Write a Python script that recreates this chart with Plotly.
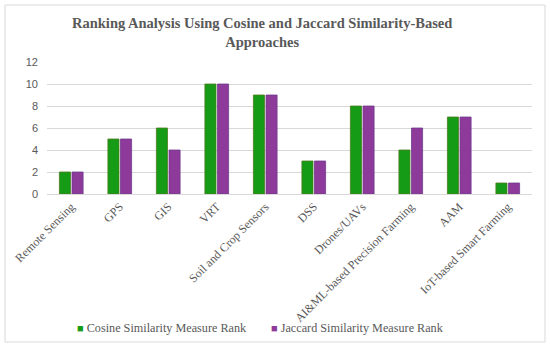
import plotly.graph_objects as go

categories = ["Remote Sensing", "GPS", "GIS", "VRT", "Soil and Crop Sensors", "DSS",
              "Drones/UAVs", "AI&ML-based Precision Farming", "AAM", "IoT-based Smart Farming"]
cosine_rank = [2, 5, 6, 10, 9, 3, 8, 4, 7, 1]
jaccard_rank = [2, 5, 4, 10, 9, 3, 8, 6, 7, 1]
y_ticks = [0, 2, 4, 6, 8, 10, 12]
series_names = ["Cosine Similarity Measure Rank", "Jaccard Similarity Measure Rank"]
series_colors = ["#169B16", "#8E3A9A"]

L, R, T, B = 47, 18, 62, 153
W, H = 550, 347
pw, ph = W - L - R, H - T - B

fig = go.Figure()
fig.add_trace(go.Bar(x=categories, y=cosine_rank, name=series_names[0], showlegend=False,
                     marker=dict(color=series_colors[0], line=dict(color="#4E7A1E", width=0.8))))
fig.add_trace(go.Bar(x=categories, y=jaccard_rank, name=series_names[1], showlegend=False,
                     marker=dict(color=series_colors[1], line=dict(color="#6E3C8E", width=0.8))))

def px_x(x):
    return (x - L) / pw

def px_y(y):
    return (T + ph - y) / ph

legend_font = dict(family="Liberation Serif", size=12.2, color="#595959")
annotations = [
    dict(xref="paper", yref="paper", x=px_x(75), y=px_y(328), xanchor="left", yanchor="middle",
         showarrow=False, font=legend_font,
         text=f"<span style='color:{series_colors[0]};font-size:11px'>■</span> {series_names[0]}"),
    dict(xref="paper", yref="paper", x=px_x(269), y=px_y(328), xanchor="left", yanchor="middle",
         showarrow=False, font=legend_font,
         text=f"<span style='color:{series_colors[1]};font-size:11px'>■</span> {series_names[1]}"),
    dict(xref="paper", yref="paper", x=px_x(262), y=px_y(13), xanchor="center", yanchor="top",
         showarrow=False, align="center",
         font=dict(family="Liberation Serif", size=14.5, color="#595959"),
         text="<b>Ranking Analysis Using Cosine and Jaccard Similarity-Based<br>Approaches</b>"),
]

fig.update_layout(
    width=W, height=H,
    margin=dict(l=L, r=R, t=T, b=B, autoexpand=False),
    paper_bgcolor="white", plot_bgcolor="white",
    barmode="group", bargap=0.48, bargroupgap=0.12,
    showlegend=False,
    xaxis=dict(tickangle=-45, automargin=False,
               tickfont=dict(family="Liberation Serif", size=12, color="#595959"),
               showline=True, linecolor="#D9D9D9", linewidth=1, ticks="", showgrid=False),
    yaxis=dict(range=[0, 12], tickvals=y_ticks, automargin=False, showgrid=True,
               gridcolor="#D9D9D9", gridwidth=1, zeroline=False, ticks="",
               ticklabelstandoff=8,
               tickfont=dict(family="Liberation Sans", size=11, color="#595959")),
    annotations=annotations,
    shapes=[dict(type="rect", xref="paper", yref="paper",
                 x0=px_x(5), x1=px_x(W - 5), y0=px_y(H - 5), y1=px_y(5),
                 line=dict(color="#D9D9D9", width=1), fillcolor="rgba(0,0,0,0)", layer="below")],
)

fig.write_html("out.html", config={"displayModeBar": False},
               post_script="document.body.style.margin='0';document.body.style.padding='0';")
